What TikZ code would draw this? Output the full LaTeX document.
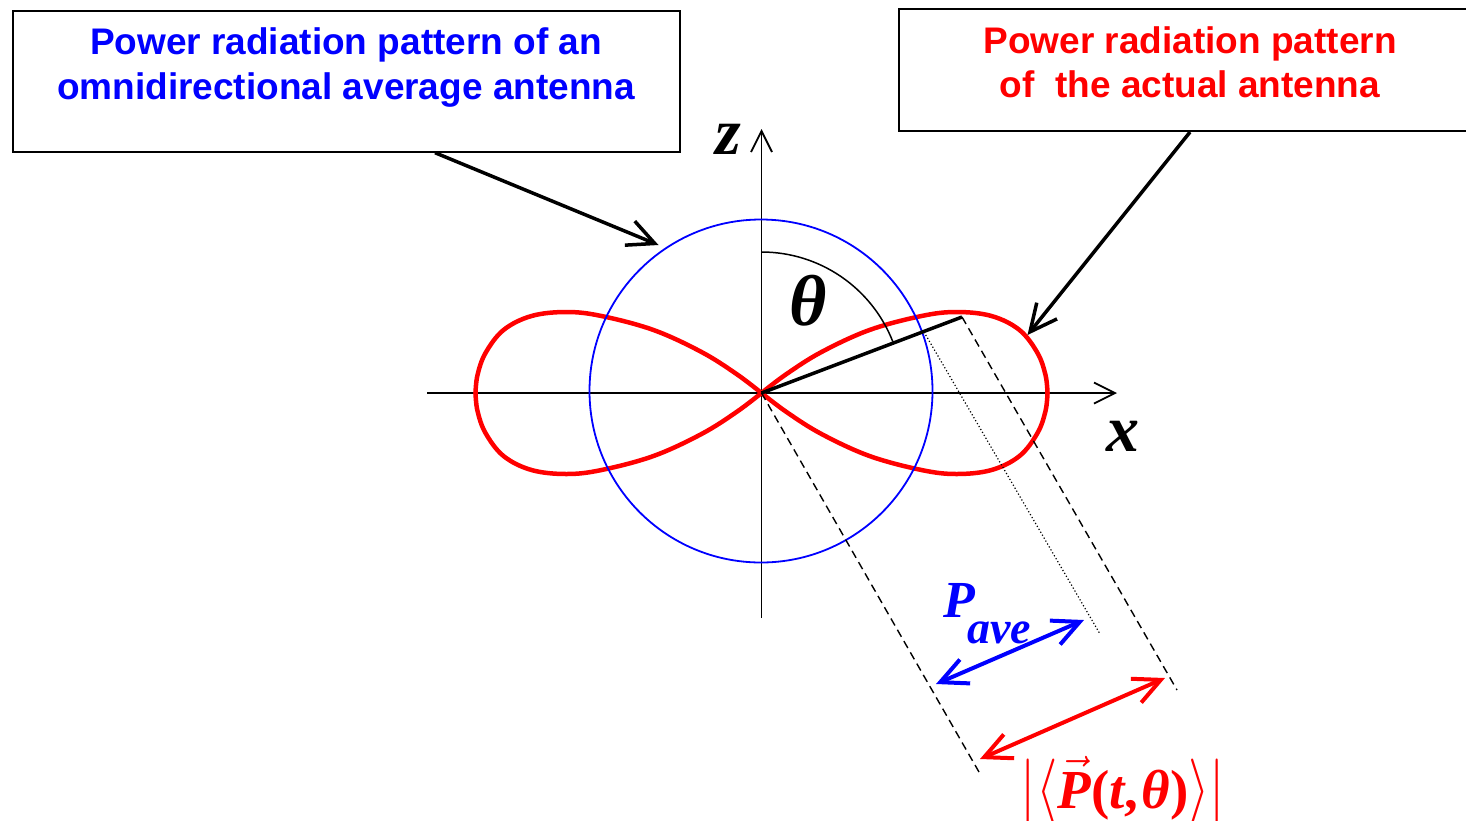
\RequirePackage{fix-cm}
\documentclass[tikz,border=0pt]{standalone}
\usepackage{amsmath}
\usepackage{graphicx}
\usepackage{fontspec}
\newfontfamily\sansf{Liberation Sans}
\newfontfamily\serf{Liberation Serif}
\usetikzlibrary{arrows.meta,calc}
\newcommand\tallsym[1]{\scalebox{1}[1.2]{$#1$}}
\begin{document}
\begin{tikzpicture}[x=1pt,y=-1pt,
  boxst/.style={draw=black, line width=2pt, inner sep=0pt},
  boxtext/.style={font=\sansf\bfseries\fontsize{37}{44.5}\selectfont, align=center, inner sep=0pt},
  axis/.style={line width=1.8pt, -{Straight Barb[length=21pt,width=21pt]}},
  callout/.style={line width=3.5pt, -{Straight Barb[length=27pt,width=26pt]}},
  dbl/.style={line width=4pt, {Straight Barb[length=27pt,width=26pt]}-{Straight Barb[length=27pt,width=26pt]}},
  lobe/.style={red, line width=4.5pt, line join=round, line cap=round},
  dashline/.style={line width=1.4pt, dash pattern=on 8pt off 5pt},
  dotline/.style={line width=1.2pt, dash pattern=on 1.2pt off 2.2pt},
]
\useasboundingbox (0,0) rectangle (1466,820);
\clip (0,0) rectangle (1466,820);

% boxes
\node[boxst, minimum width=667.5pt, minimum height=141pt] (lbox) at (346.25,81.2) {};
\node[boxtext, text=blue] (ltext) at (346,67.5) {Power radiation pattern of an\\omnidirectional average antenna};
\node[boxst, minimum width=582.6pt, minimum height=121.7pt] (rbox) at (1190,70.2) {};
\node[boxtext, text=red] (rtext) at (1190,62.3) {Power radiation pattern\\of\ \ the actual antenna};

% axes
\coordinate (O) at (761.5,393);
\coordinate (xs) at (427,393);
\coordinate (xe) at (1117,393);
\coordinate (zs) at (761.5,618);
\coordinate (ze) at (761.5,129);
\draw[axis] (xs) -- (xe);
\draw[axis] (zs) -- (ze);

% lobes
\foreach \sx/\sy in {1/1,1/-1,-1/1,-1/-1}{
  \draw[lobe, shift={(O)}, xscale=\sx, yscale=\sy] plot[smooth, tension=0.6] coordinates
    {(0,0) (25,-19) (60,-41) (108,-63) (160,-77) (195,-81) (230,-77) (258,-63) (276,-40) (284,-18) (286,0)};
}

% average circle
\draw[blue, line width=1.8pt] (761,391) circle[radius=171.5pt];

% theta arc and radius
\draw[line width=1.5pt] (761.5,252) arc[start angle=90, end angle=21.4, radius=141pt];
\coordinate (Pt) at (962,317);
\draw[line width=3.5pt] (O) -- (Pt);

% projection lines
\coordinate (d1) at (979,772);
\coordinate (d2) at (1177,690);
\coordinate (c1) at (924,332);
\coordinate (c2) at (1100,634);
\draw[dashline] (O) -- (d1);
\draw[dashline] (Pt) -- (d2);
\draw[dotline] (c1) -- (c2);

% double arrows
\coordinate (b1) at (936,684);
\coordinate (b2) at (1084,620);
\draw[dbl, blue] (b1) -- (b2);
\coordinate (r1) at (980,759);
\coordinate (r2) at (1165,678);
\draw[dbl, red] (r1) -- (r2);

% callouts
\coordinate (la) at (658.5,245);
\draw[callout] ([xshift=88.75pt]lbox.south) -- (la);
\coordinate (ra) at (1027.5,335);
\draw[callout] (rbox.south) -- (ra);

% labels
\node[inner sep=0pt, font=\serf\bfseries\itshape\fontsize{66}{70}\selectfont] (zl) at (728.5,139) {z};
\node[inner sep=0pt, font=\serf\bfseries\itshape\fontsize{66}{70}\selectfont] (xl) at (1122.5,436.5) {x};
\node[inner sep=0pt, font=\serf\bfseries\itshape\fontsize{72}{76}\selectfont] (thl) at (808,301) {θ};
\node[anchor=base west, text=blue, inner sep=0pt, font=\serf\bfseries\itshape\fontsize{52}{60}\selectfont] (pave) at (943,617.7)
  {P\kern-7.5pt\raisebox{-26pt}{\fontsize{46}{50}\selectfont ave}};
\node[anchor=base, text=red, inner sep=0pt, font=\serf\bfseries\fontsize{55}{66}\selectfont] (pl) at (1123,808)
  {\tallsym{|}\tallsym{\langle}$\vec{\mbox{\itshape P}}$(\textit{t},\kern3pt\textit{θ})\tallsym{\rangle}\tallsym{|}};
\end{tikzpicture}
\end{document}
